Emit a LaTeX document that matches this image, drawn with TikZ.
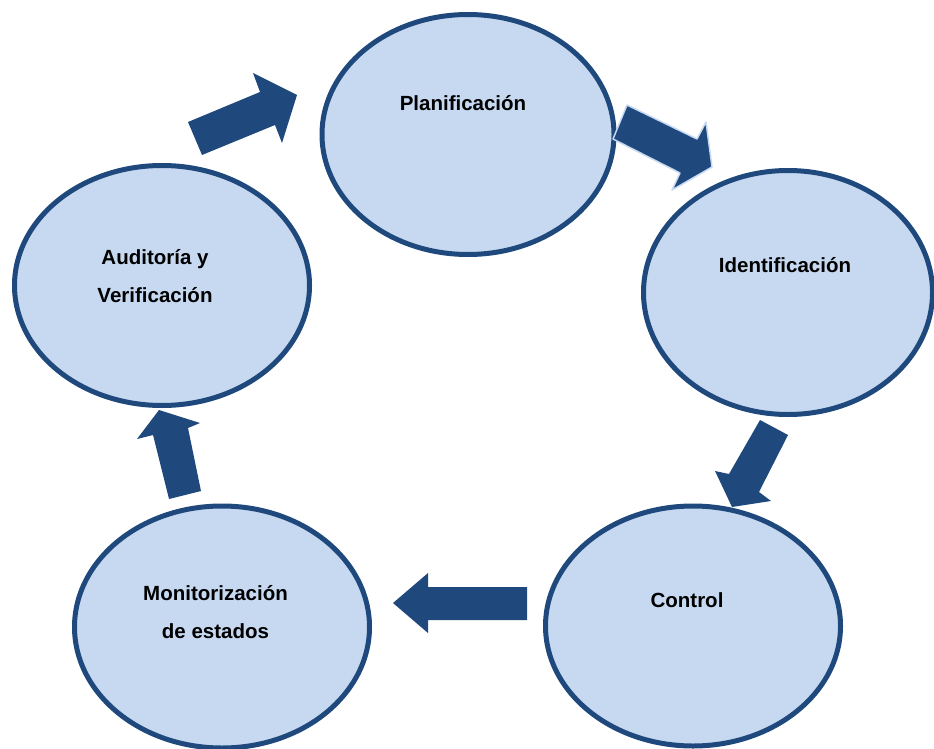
\documentclass[tikz,border=0pt]{standalone}
\usepackage{fontspec}
\setmainfont{Liberation Sans}
\usetikzlibrary{shapes.geometric}
\definecolor{darkblue}{RGB}{31,73,125}
\definecolor{paleblue}{RGB}{198,217,241}
\begin{document}
\begin{tikzpicture}[x=1pt,y=-1pt,
  phase/.style={ellipse, draw=darkblue, fill=paleblue, line width=5pt, inner sep=0pt},
  caption/.style={font=\bfseries\fontsize{20.5}{38}\selectfont, align=center, inner sep=0pt, text=black},
  blockarrow/.style={fill=darkblue, draw=none},
  glowarrow/.style={fill=darkblue, draw=paleblue, line width=1.5pt, line join=round}]
\useasboundingbox (0,0) rectangle (934,749);

% the five phases of the cycle
\node[phase, minimum width=292pt, minimum height=240pt] (plan) at (468,134.5) {};
\node[phase, minimum width=289pt, minimum height=244pt] (iden) at (788,292.5) {};
\node[phase, minimum width=295pt, minimum height=240pt] (ctrl) at (693,626) {};
\node[phase, minimum width=295pt, minimum height=242pt] (moni) at (222,627) {};
\node[phase, minimum width=295pt, minimum height=240pt] (audi) at (162,285.5) {};

% phase captions
\node[caption, anchor=base] (planT) at (463,111) {Planificación};
\node[caption, anchor=base] (idenT) at (785,272) {Identificación};
\node[caption, anchor=base] (ctrlT) at (687,607) {Control};
\node[caption] (moniT) at (215.5,612.5) {Monitorización\\de estados};
\node[caption] (audiT) at (155,276) {Auditoría y\\Verificación};

% block arrows leading from one phase to the next
\fill[blockarrow] (188,122) -- (260,92) -- (253,73) -- (297,95) -- (282,143) -- (275,125) -- (202,155) -- cycle;
\filldraw[glowarrow] (627,105) -- (697,139) -- (706,122) -- (712,167) -- (672,190) -- (680,173) -- (613,139) -- cycle;
\fill[blockarrow] (760,420) -- (788,435) -- (759,492) -- (771,501) -- (732,507) -- (715,471) -- (729,474) -- cycle;
\fill[blockarrow] (527,587) -- (428,587) -- (428,573) -- (393,603) -- (428,633) -- (428,620) -- (527,620) -- cycle;
\fill[blockarrow] (169,499) -- (201,491) -- (188,428) -- (200,423) -- (159,410) -- (137,439) -- (153,435) -- cycle;
\end{tikzpicture}
\end{document}
